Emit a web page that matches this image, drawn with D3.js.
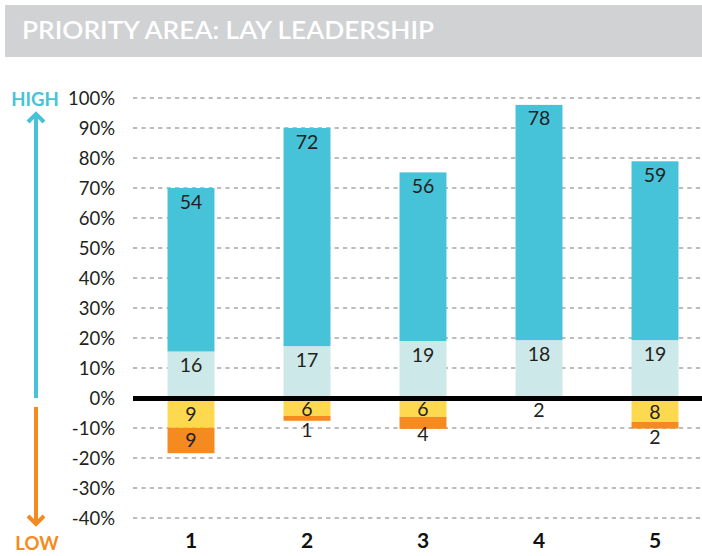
<!DOCTYPE html>
<html><head><meta charset="utf-8">
<script src="https://cdn.jsdelivr.net/npm/d3@7"></script>
<style>
html,body{margin:0;padding:0;background:#fff;}
svg{display:block;font-family:Lato,"Open Sans",sans-serif;}
</style></head>
<body>
<svg id="chart" width="702" height="556"></svg>
<script>
// ---- data ----
const title = "PRIORITY AREA: LAY LEADERSHIP";
const categories = ["1", "2", "3", "4", "5"];
// drawn segment sizes (% of respondents)
const lightHigh = [15.5, 17.3, 19.0, 19.3, 19.3];
const darkHigh  = [54.5, 72.7, 56.2, 78.4, 59.6];
const yellowLow = [9.9, 6.0, 6.3, 0.5, 8.0];
const orangeLow = [8.5, 1.6, 4.0, 0.0, 2.2];
// printed labels
const lightLabels  = ["16", "17", "19", "18", "19"];
const darkLabels   = ["54", "72", "56", "78", "59"];
const yellowLabels = ["9", "6", "6", "2", "8"];
const orangeLabels = ["9", "1", "4", "", "2"];
const yTicks = [-40, -30, -20, -10, 0, 10, 20, 30, 40, 50, 60, 70, 80, 90, 100];

const C = {dark:"#47c3d9", light:"#cde8e8", yellow:"#fed94f", orange:"#f58a21", grid:"#a6a6a6", text:"#231f20", banner:"#d1d2d4"};

const svg = d3.select("#chart");

// title banner
svg.append("rect").attr("x", 5).attr("y", 5).attr("width", 697).attr("height", 52).attr("fill", C.banner);
svg.append("text").attr("x", 22).attr("y", 39).text(title)
  .attr("fill", "#fff").attr("font-size", 24).attr("font-weight", 600)
  .attr("textLength", 412).attr("lengthAdjust", "spacingAndGlyphs");

const y = d3.scaleLinear().domain([-40, 100]).range([518, 98]);
const x = d3.scaleBand().domain(categories).range([133, 713]).paddingInner(0.595).paddingOuter(0.2975);

// grid
const grid = svg.append("g");
grid.selectAll("line").data(yTicks.filter(d => d !== 0)).join("line")
  .attr("x1", 133).attr("x2", 702).attr("y1", d => y(d)).attr("y2", d => y(d))
  .attr("stroke", C.grid).attr("stroke-width", 1.5).attr("stroke-dasharray", "4.2,4.2");

// y axis labels
const yAxis = d3.axisLeft(y).tickValues(yTicks).tickFormat(d => d + "%").tickSize(0).tickPadding(0);
const ya = svg.append("g").attr("transform", "translate(115,0)").call(yAxis);
ya.select(".domain").remove();
ya.selectAll("text").attr("font-size", 18.5).attr("fill", C.text).attr("font-family", "Lato, sans-serif").attr("font-weight", 400).attr("dy", "0.35em");

// bars
const bw = x.bandwidth();
const rows = categories.map((c, i) => ({
  c, i,
  segs: [
    {y0: 0, y1: lightHigh[i], col: C.light, lab: lightLabels[i], pos: "top"},
    {y0: lightHigh[i], y1: lightHigh[i] + darkHigh[i], col: C.dark, lab: darkLabels[i], pos: "top"},
    {y0: 0, y1: -yellowLow[i], col: C.yellow, lab: yellowLabels[i], pos: "neg"},
    {y0: -yellowLow[i], y1: -yellowLow[i] - orangeLow[i], col: C.orange, lab: orangeLabels[i], pos: "neg"}
  ]
}));
const bars = svg.append("g");
rows.forEach(r => {
  const g = bars.append("g");
  g.selectAll("rect").data(r.segs.filter(s => s.y1 !== s.y0)).join("rect")
    .attr("x", x(r.c)).attr("width", bw)
    .attr("y", s => Math.min(y(s.y0), y(s.y1)))
    .attr("height", s => Math.abs(y(s.y0) - y(s.y1)))
    .attr("fill", s => s.col);
});

// zero line
svg.append("line").attr("x1", 133).attr("x2", 702).attr("y1", y(0) + 0.5).attr("y2", y(0) + 0.5)
  .attr("stroke", "#000").attr("stroke-width", 5);

// labels
rows.forEach(r => {
  r.segs.forEach(s => {
    if (!s.lab) return;
    let ly;
    if (s.pos === "top") ly = y(s.y1) + 13.5;
    else {
      const top = y(s.y0), bot = y(s.y1);
      if (bot - top >= 15) ly = (Math.max(top, y(0) + 3) + bot) / 2;
      else ly = (top + bot) / 2 + 11.5;
    }
    svg.append("text").attr("x", x(r.c) + bw / 2).attr("y", ly).attr("dy", "0.36em")
      .attr("text-anchor", "middle").attr("font-size", 19.5).attr("font-weight", 400)
      .attr("fill", C.text).text(s.lab);
  });
});

// category labels
svg.append("g").selectAll("text").data(categories).join("text")
  .attr("x", d => x(d) + bw / 2).attr("y", 540).attr("dy", "0.36em")
  .attr("text-anchor", "middle").attr("font-size", 21).attr("font-weight", 700)
  .attr("fill", "#111").text(d => d);

// HIGH / LOW arrows
svg.append("text").attr("x", 35).attr("y", 99).attr("dy", "0.36em").attr("text-anchor", "middle")
  .attr("font-size", 18.5).attr("font-weight", 700).attr("fill", C.dark).text("HIGH");
svg.append("line").attr("x1", 36).attr("x2", 36).attr("y1", 114).attr("y2", 398)
  .attr("stroke", C.dark).attr("stroke-width", 4);
svg.append("polyline").attr("points", "28,122 36,114 44,122").attr("fill", "none")
  .attr("stroke", C.dark).attr("stroke-width", 4).attr("stroke-linecap", "butt");

svg.append("line").attr("x1", 36).attr("x2", 36).attr("y1", 407).attr("y2", 524)
  .attr("stroke", C.orange).attr("stroke-width", 4);
svg.append("polyline").attr("points", "28,516 36,524 44,516").attr("fill", "none")
  .attr("stroke", C.orange).attr("stroke-width", 4);
svg.append("text").attr("x", 37).attr("y", 543).attr("dy", "0.36em").attr("text-anchor", "middle")
  .attr("font-size", 18.5).attr("font-weight", 700).attr("fill", C.orange).text("LOW");
</script>
</body></html>
